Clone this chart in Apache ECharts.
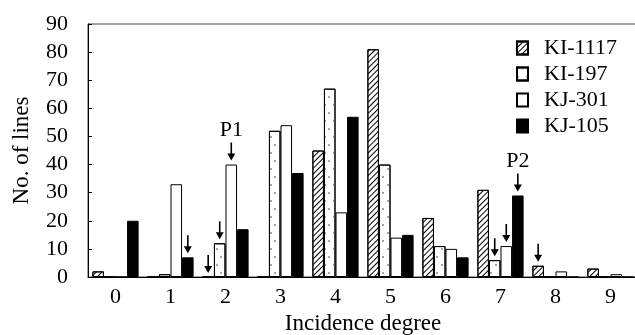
<!DOCTYPE html>
<html>
<head>
<meta charset="utf-8">
<script src="https://cdn.jsdelivr.net/npm/echarts@6/dist/echarts.min.js"></script>
<style>
  html, body { margin: 0; padding: 0; background: #fff; }
  #chart { width: 635px; height: 335px; }
</style>
</head>
<body>
<div id="chart"></div>
<script>
const categories = ['0', '1', '2', '3', '4', '5', '6', '7', '8', '9'];
const ki1117 = [2, 0, 0, 0, 45, 81, 21, 31, 4, 3];
const ki197 = [0, 1, 12, 52, 67, 40, 11, 6, 0, 0];
const kj301 = [0, 33, 40, 54, 23, 14, 10, 11, 2, 1];
const kj105 = [20, 7, 17, 37, 57, 15, 7, 29, 0, 0];
// arrows drawn above these bars (series, category, optional tag)
const arrows = [
    ['KJ-105', '1', ''],
    ['KI-1117', '2', ''],
    ['KI-197', '2', ''],
    ['KJ-301', '2', 'P1'],
    ['KI-197', '7', ''],
    ['KJ-301', '7', ''],
    ['KJ-105', '7', 'P2'],
    ['KI-1117', '8', '']
];

const serif = 'Liberation Serif';
const arrowPath = 'path://M3.2,0 L4.8,0 L4.8,11 L8,11 L4,18 L0,11 L3.2,11 Z';

const chart = echarts.init(document.getElementById('chart'));

const makeSeries = (name, values, fill, decal) => {
    const marks = arrows.filter(a => a[0] === name).map(a => {
        const idx = categories.indexOf(a[1]);
        return {
            coord: [a[1], values[idx]],
            label: {
                show: a[2] !== '',
                formatter: a[2],
                position: 'top',
                distance: 1,
                fontFamily: serif,
                fontSize: 22,
                color: '#000'
            }
        };
    });
    return {
        name: name,
        type: 'bar',
        data: values,
        barGap: '0%',
        barCategoryGap: '16%',
        itemStyle: {
            color: fill,
            borderColor: '#000',
            borderWidth: 1,
            decal: decal
        },
        emphasis: {disabled: true},
        markPoint: {
            symbol: arrowPath,
            symbolSize: [8, 18],
            symbolOffset: [0, -13],
            itemStyle: {color: '#000'},
            data: marks
        }
    };
};

const hatch = {
    symbol: 'rect',
    symbolSize: 1,
    dashArrayX: [1, 0],
    dashArrayY: [1, 3],
    rotation: -Math.PI / 4,
    color: '#000'
};
const dots = {
    symbol: 'circle',
    symbolSize: 1,
    dashArrayX: [[2, 7], [0, 4, 2, 3]],
    dashArrayY: [2, 6],
    color: '#888'
};

const option = {
    animation: false,
    backgroundColor: '#fff',
    textStyle: {fontFamily: serif, color: '#000'},
    grid: {
        show: true,
        borderColor: '#444',
        borderWidth: 1,
        outerBoundsMode: 'none',
        containLabel: false,
        left: 88,
        top: 24,
        width: 550,
        height: 253
    },
    legend: {
        orient: 'vertical',
        left: 511,
        top: 32,
        icon: 'rect',
        itemWidth: 11,
        itemHeight: 13,
        itemGap: 4,
        textStyle: {fontFamily: serif, fontSize: 22, color: '#000', padding: [0, 0, 0, 11]},
        data: ['KI-1117', 'KI-197', 'KJ-301', 'KJ-105']
    },
    xAxis: {
        type: 'category',
        data: categories,
        name: 'Incidence degree',
        nameLocation: 'middle',
        nameGap: 31,
        nameTextStyle: {fontFamily: serif, fontSize: 23, color: '#000'},
        axisLine: {lineStyle: {color: '#000', width: 1}},
        axisTick: {inside: true, length: 4, lineStyle: {color: '#000'}},
        axisLabel: {fontFamily: serif, fontSize: 22, color: '#000', margin: 9}
    },
    yAxis: {
        type: 'value',
        min: 0,
        max: 90,
        interval: 10,
        name: 'No. of lines',
        nameLocation: 'middle',
        nameGap: 55,
        nameTextStyle: {fontFamily: serif, fontSize: 23, color: '#000'},
        splitLine: {show: false},
        axisLine: {show: true, lineStyle: {color: '#000', width: 1}},
        axisTick: {show: true, inside: true, length: 4, lineStyle: {color: '#000'}},
        axisLabel: {fontFamily: serif, fontSize: 22, color: '#000', margin: 20}
    },
    series: [
        makeSeries('KI-1117', ki1117, '#fff', hatch),
        makeSeries('KI-197', ki197, '#fff', dots),
        makeSeries('KJ-301', kj301, '#fff', null),
        makeSeries('KJ-105', kj105, '#000', null)
    ]
};

chart.setOption(option);
</script>
</body>
</html>
